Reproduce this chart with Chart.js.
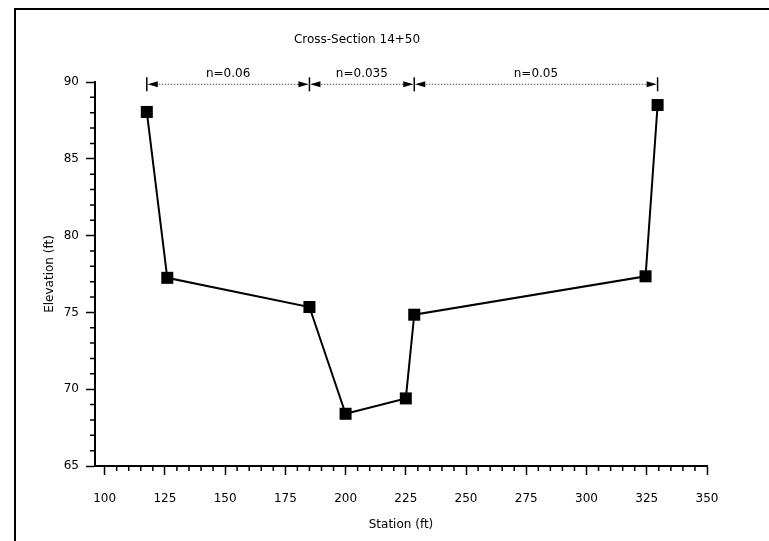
<!DOCTYPE html>
<html>
<head>
<meta charset="utf-8">
<script src="https://cdn.jsdelivr.net/npm/chart.js@4/dist/chart.umd.min.js"></script>
<style>
  html, body { margin: 0; padding: 0; background: #fff; }
  #wrap { width: 769px; height: 541px; position: relative; }
</style>
</head>
<body>
<div id="wrap"><canvas id="chart"></canvas></div>
<script>
// surveyed cross-section points
const station = [117.5, 126, 185, 200, 225, 228.5, 324.5, 329.5];
const elevation = [88.05, 77.25, 75.35, 68.4, 69.4, 74.85, 77.35, 88.5];

// roughness zones (Manning n), boundaries in station ft
const zoneBreaks = [117.5, 185, 228.5, 329.5];
const zoneLabels = ['n=0.06', 'n=0.035', 'n=0.05'];

const xTicks = [100, 125, 150, 175, 200, 225, 250, 275, 300, 325, 350];
const yTicks = [65, 70, 75, 80, 85, 90];

const FONT = '"DejaVu Sans", sans-serif';

// minor ticks, zone dimension line, title and page frame
const extras = {
  id: 'extras',
  afterDraw(chart) {
    const ctx = chart.ctx;
    const x = chart.scales.x, y = chart.scales.y;
    const area = chart.chartArea;
    ctx.save();
    ctx.strokeStyle = '#000';
    ctx.fillStyle = '#000';

    // frame
    ctx.lineWidth = 2;
    ctx.beginPath();
    ctx.moveTo(15, 541);
    ctx.lineTo(15, 9);
    ctx.lineTo(769, 9);
    ctx.stroke();

    // minor ticks
    ctx.lineWidth = 1.5;
    ctx.beginPath();
    for (let v = 105; v < 350; v += 5) {
      if (v % 25 === 0) continue;
      const px = x.getPixelForValue(v);
      ctx.moveTo(px, area.bottom);
      ctx.lineTo(px, area.bottom + 5);
    }
    for (let v = 66; v < 90; v += 1) {
      if (v % 5 === 0) continue;
      const py = y.getPixelForValue(v);
      ctx.moveTo(area.left, py);
      ctx.lineTo(area.left - 5, py);
    }
    ctx.stroke();

    // title
    ctx.font = '12px ' + FONT;
    ctx.textAlign = 'center';
    ctx.textBaseline = 'middle';
    ctx.fillText('Cross-Section 14+50', 357, 40);

    // zone dimension line
    const ly = y.getPixelForValue(89.85);
    const bx = zoneBreaks.map(v => x.getPixelForValue(v));
    ctx.lineWidth = 1.5;
    bx.forEach(px => {
      ctx.beginPath();
      ctx.moveTo(px, ly - 7);
      ctx.lineTo(px, ly + 7);
      ctx.stroke();
    });
    ctx.strokeStyle = '#555';
    ctx.lineWidth = 1;
    ctx.setLineDash([1.5, 1.5]);
    ctx.beginPath();
    ctx.moveTo(bx[0], ly);
    ctx.lineTo(bx[bx.length - 1], ly);
    ctx.stroke();
    ctx.setLineDash([]);
    const arrow = (px, dir) => {
      ctx.beginPath();
      ctx.moveTo(px, ly);
      ctx.lineTo(px + dir * 10, ly - 3);
      ctx.lineTo(px + dir * 10, ly + 3);
      ctx.closePath();
      ctx.fill();
    };
    for (let i = 0; i < zoneLabels.length; i++) {
      arrow(bx[i] + 1, 1);
      arrow(bx[i + 1] - 1, -1);
      ctx.fillText(zoneLabels[i], (bx[i] + bx[i + 1]) / 2, ly - 10);
    }
    ctx.restore();
  }
};

new Chart(document.getElementById('chart'), {
  type: 'line',
  data: {
    datasets: [{
      data: station.map((s, i) => ({ x: s, y: elevation[i] })),
      borderColor: '#000',
      borderWidth: 2,
      backgroundColor: '#000',
      pointStyle: 'rect',
      pointRadius: 8.5,
      pointHoverRadius: 8.5,
      pointBackgroundColor: '#000',
      pointBorderWidth: 0,
      tension: 0
    }]
  },
  options: {
    responsive: true,
    maintainAspectRatio: false,
    animation: false,
    events: [],
    layout: { padding: { left: 0, top: 82, right: 62, bottom: 0 } },
    plugins: { legend: { display: false }, tooltip: { enabled: false } },
    scales: {
      x: {
        type: 'linear',
        min: 96,
        max: 350,
        afterFit: s => { s.height = 75; },
        afterBuildTicks: s => { s.ticks = xTicks.map(v => ({ value: v })); },
        ticks: { color: '#000', font: { family: FONT, size: 12 }, padding: 17, maxRotation: 0 },
        grid: { drawOnChartArea: false, tickLength: 9, tickWidth: 1.5, tickColor: '#000' },
        border: { color: '#000', width: 2 },
        title: { display: true, text: 'Station (ft)', color: '#000', font: { family: FONT, size: 12 }, padding: { top: 0, bottom: 9 } }
      },
      y: {
        type: 'linear',
        min: 65,
        max: 90,
        afterFit: s => { s.width = 95; },
        afterBuildTicks: s => { s.ticks = yTicks.map(v => ({ value: v })); },
        ticks: { color: '#000', font: { family: FONT, size: 12 }, padding: 7 },
        grid: { drawOnChartArea: false, tickLength: 9, tickWidth: 1.5, tickColor: '#000' },
        border: { color: '#000', width: 2 },
        title: { display: true, text: 'Elevation (ft)', color: '#000', font: { family: FONT, size: 12 }, padding: { top: 43, bottom: 0 } }
      }
    }
  },
  plugins: [extras]
});
</script>
</body>
</html>
